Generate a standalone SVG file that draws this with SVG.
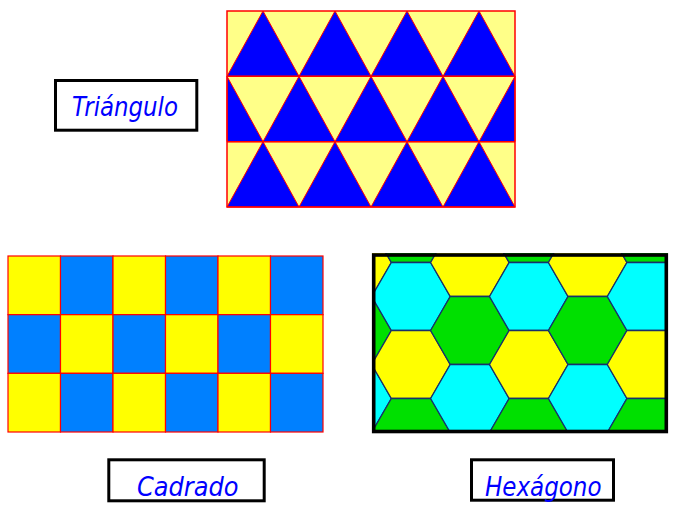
<svg xmlns="http://www.w3.org/2000/svg" xmlns:xlink="http://www.w3.org/1999/xlink" width="676" height="507" viewBox="0 0 676 507">
<style>
.tb{fill:#0000FF;stroke:#FF0000;stroke-width:1}
.sy{fill:#FFFF00;stroke:#FF0000;stroke-width:1.2}
.sb{fill:#0080FF;stroke:#FF0000;stroke-width:1.2}
.hc{fill:#00FFFF}
.hy{fill:#FFFF00}
.hg{fill:#00E000}
.lbl{fill:none;stroke:#000;stroke-width:3}
.lt{font-family:"DejaVu Sans","Liberation Sans",sans-serif;font-style:italic;fill:#0000FF;font-size:26px}
</style>
<defs>
<path id="hx" d="M-39.3,0 L-19.65,-34 L19.65,-34 L39.3,0 L19.65,34 L-19.65,34 Z" stroke="#18306a" stroke-width="1.3"/>
<clipPath id="hclip"><rect x="372" y="253" width="296" height="180"/></clipPath>
</defs>
<rect width="676" height="507" fill="#fff"/>

<g id="triangulos">
<rect x="227" y="11" width="288" height="196" fill="#FFFF88"/>
<polygon class="tb" points="227,76.33 263,11 299,76.33"/>
<polygon class="tb" points="299,76.33 335,11 371,76.33"/>
<polygon class="tb" points="371,76.33 407,11 443,76.33"/>
<polygon class="tb" points="443,76.33 479,11 515,76.33"/>
<polygon class="tb" points="227,76.33 263,141.67 227,141.67"/>
<polygon class="tb" points="299,76.33 335,141.67 263,141.67"/>
<polygon class="tb" points="371,76.33 407,141.67 335,141.67"/>
<polygon class="tb" points="443,76.33 479,141.67 407,141.67"/>
<polygon class="tb" points="515,76.33 515,141.67 479,141.67"/>
<polygon class="tb" points="227,207 263,141.67 299,207"/>
<polygon class="tb" points="299,207 335,141.67 371,207"/>
<polygon class="tb" points="371,207 407,141.67 443,207"/>
<polygon class="tb" points="443,207 479,141.67 515,207"/>
<line x1="227" y1="76.33" x2="515" y2="76.33" stroke="#FF0000" stroke-width="1.5"/>
<line x1="227" y1="141.67" x2="515" y2="141.67" stroke="#FF0000" stroke-width="1.5"/>
<rect x="227" y="11" width="288" height="196" fill="none" stroke="#FF0000" stroke-width="1.5"/>
</g>

<g id="cadrados">
<rect class="sy" x="8" y="256" width="52.5" height="58.67"/>
<rect class="sb" x="60.5" y="256" width="52.5" height="58.67"/>
<rect class="sy" x="113" y="256" width="52.5" height="58.67"/>
<rect class="sb" x="165.5" y="256" width="52.5" height="58.67"/>
<rect class="sy" x="218" y="256" width="52.5" height="58.67"/>
<rect class="sb" x="270.5" y="256" width="52.5" height="58.67"/>
<rect class="sb" x="8" y="314.67" width="52.5" height="58.67"/>
<rect class="sy" x="60.5" y="314.67" width="52.5" height="58.67"/>
<rect class="sb" x="113" y="314.67" width="52.5" height="58.67"/>
<rect class="sy" x="165.5" y="314.67" width="52.5" height="58.67"/>
<rect class="sb" x="218" y="314.67" width="52.5" height="58.67"/>
<rect class="sy" x="270.5" y="314.67" width="52.5" height="58.67"/>
<rect class="sy" x="8" y="373.33" width="52.5" height="58.67"/>
<rect class="sb" x="60.5" y="373.33" width="52.5" height="58.67"/>
<rect class="sy" x="113" y="373.33" width="52.5" height="58.67"/>
<rect class="sb" x="165.5" y="373.33" width="52.5" height="58.67"/>
<rect class="sy" x="218" y="373.33" width="52.5" height="58.67"/>
<rect class="sb" x="270.5" y="373.33" width="52.5" height="58.67"/>
</g>

<g id="hexagonos">
<g clip-path="url(#hclip)">
<rect x="372" y="253" width="296" height="180" fill="#00E000"/>
<use xlink:href="#hx" x="352.1" y="262.5" class="hy"/>
<use xlink:href="#hx" x="352.1" y="330.5" class="hg"/>
<use xlink:href="#hx" x="352.1" y="398.5" class="hc"/>
<use xlink:href="#hx" x="411" y="228.5" class="hg"/>
<use xlink:href="#hx" x="411" y="296.5" class="hc"/>
<use xlink:href="#hx" x="411" y="364.5" class="hy"/>
<use xlink:href="#hx" x="411" y="432.5" class="hg"/>
<use xlink:href="#hx" x="469.9" y="262.5" class="hy"/>
<use xlink:href="#hx" x="469.9" y="330.5" class="hg"/>
<use xlink:href="#hx" x="469.9" y="398.5" class="hc"/>
<use xlink:href="#hx" x="528.8" y="228.5" class="hg"/>
<use xlink:href="#hx" x="528.8" y="296.5" class="hc"/>
<use xlink:href="#hx" x="528.8" y="364.5" class="hy"/>
<use xlink:href="#hx" x="528.8" y="432.5" class="hg"/>
<use xlink:href="#hx" x="587.7" y="262.5" class="hy"/>
<use xlink:href="#hx" x="587.7" y="330.5" class="hg"/>
<use xlink:href="#hx" x="587.7" y="398.5" class="hc"/>
<use xlink:href="#hx" x="646.6" y="228.5" class="hg"/>
<use xlink:href="#hx" x="646.6" y="296.5" class="hc"/>
<use xlink:href="#hx" x="646.6" y="364.5" class="hy"/>
<use xlink:href="#hx" x="646.6" y="432.5" class="hg"/>
</g>
<rect x="373.7" y="255" width="292.6" height="176.5" fill="none" stroke="#000" stroke-width="3.6"/>
</g>

<g id="label-triangulo">
<rect class="lbl" x="55.5" y="80.5" width="141.3" height="49.7"/>
<text class="lt" x="72" y="116" textLength="106" lengthAdjust="spacingAndGlyphs">Triángulo</text>
</g>
<g id="label-cadrado">
<rect class="lbl" x="108.8" y="459.8" width="155.4" height="41"/>
<text class="lt" x="137" y="496" textLength="101.5" lengthAdjust="spacingAndGlyphs">Cadrado</text>
</g>
<g id="label-hexagono">
<rect class="lbl" x="471.5" y="459.8" width="142" height="40.4"/>
<text class="lt" x="485" y="496" textLength="116.5" lengthAdjust="spacingAndGlyphs">Hexágono</text>
</g>
</svg>
